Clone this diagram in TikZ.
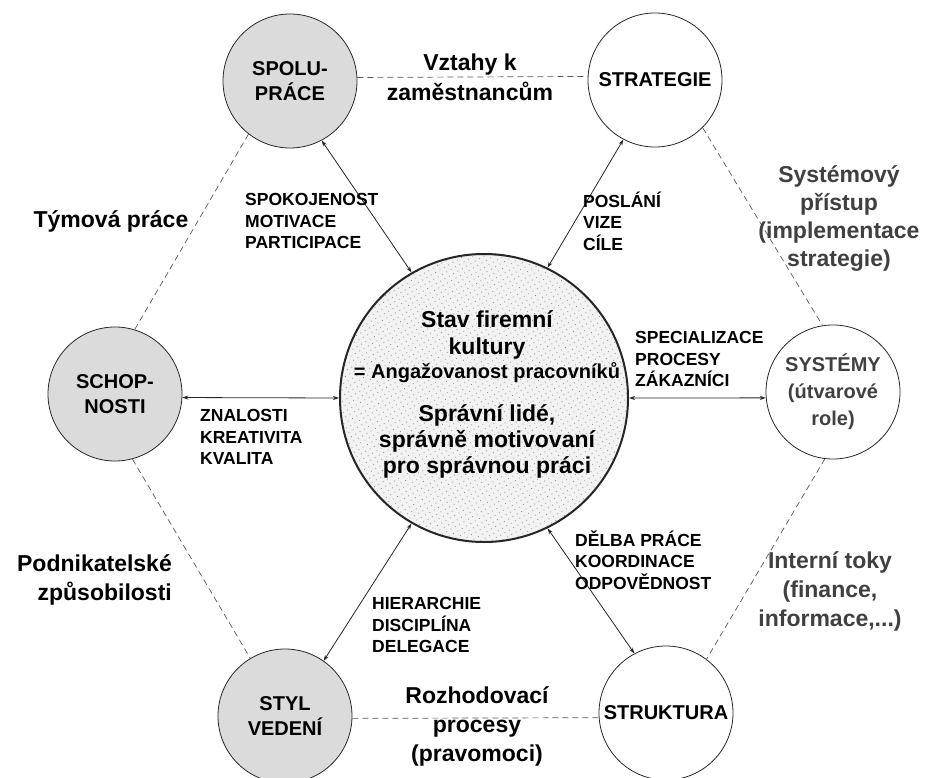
\documentclass[tikz,border=0pt]{standalone}
\usepackage{fontspec}
\setmainfont{Liberation Sans}
\usetikzlibrary{arrows.meta,patterns.meta}
\tikzset{
  lblbig/.style={font=\fontsize{23}{29}\selectfont\bfseries, align=center, inner sep=0pt},
  lblsmall/.style={font=\fontsize{17.5}{21.5}\selectfont\bfseries, align=left, anchor=west, inner sep=0pt},
  lblcirc/.style={font=\fontsize{20}{25}\selectfont\bfseries, align=center},
  bubble/.style={circle, draw=black!85, line width=0.8pt, minimum size=134pt, inner sep=0pt, fill=white},
  greybubble/.style={bubble, fill=black!14},
  arr/.style={<->, >={Stealth[length=6pt,width=4pt]}, line width=0.8pt, draw=black!85},
  dsh/.style={draw=black!65, line width=0.7pt, dash pattern=on 6pt off 4pt},
}
\begin{document}
\begin{tikzpicture}[x=1pt,y=-1pt]
\useasboundingbox[fill=white] (0,0) rectangle (926,778);

% circles
\node[circle, draw=black!85, line width=2pt, minimum size=288pt, inner sep=0pt,
      preaction={fill=black!5},
      pattern={Dots[radius=0.55pt, distance=5pt, angle=30]}, pattern color=black!45] (centre) at (484,398) {};
\node[greybubble, lblcirc] (spol) at (290,81) {SPOLU-\\PRÁCE};
\node[bubble, lblcirc] (strat) at (655,80) {STRATEGIE};
\node[greybubble, lblcirc] (schop) at (115,394) {SCHOP-\\NOSTI};
\node[bubble, lblcirc, font=\fontsize{20}{27}\selectfont\bfseries, text=black!75] (sys) at (833,392) {SYSTÉMY\\(útvarové\\role)};
\node[greybubble, lblcirc] (styl) at (285,716) {STYL\\VEDENÍ};
\node[bubble, lblcirc] (struk) at (666,713) {STRUKTURA};

% dashed hexagon
\draw[dsh] (spol.3) -- (strat.177);
\draw[dsh] (spol.232) -- (schop.73);
\draw[dsh] (strat.315) -- (sys.99);
\draw[dsh] (schop.285) -- (styl.121);
\draw[dsh] (sys.263) -- (struk.53);
\draw[dsh] (styl.-2) -- (struk.184);

% arrows to centre
\draw[arr] (spol.298) -- (centre.120);
\draw[arr] (strat.242) -- (centre.64);
\draw[arr] (schop.-3) -- (centre.180);
\draw[arr] (centre.0) -- (sys.185);
\draw[arr] (styl.55) -- (centre.240);
\draw[arr] (struk.118) -- (centre.296);

% centre text
\node[lblbig, font=\fontsize{23}{27}\selectfont\bfseries] (stav) at (487,335) {Stav firemní\\kultury};
\node[lblbig, font=\fontsize{20}{24}\selectfont\bfseries] (ang) at (487,373) {= Angažovanost pracovníků};
\node[lblbig, font=\fontsize{23}{26}\selectfont\bfseries] (spr) at (487,441) {Správní lidé,\\správně motivovaní\\pro správnou práci};

% edge labels
\node[lblbig, font=\fontsize{23}{30}\selectfont\bfseries] (vzt) at (470,77) {Vztahy k\\zaměstnancům};
\node[lblbig] (tym) at (111,221) {Týmová práce};
\node[lblbig, text=black!75, font=\fontsize{23}{28}\selectfont\bfseries] (sysp) at (839,219) {Systémový\\přístup\\(implementace\\strategie)};
\node[lblbig, align=right, anchor=east] (podn) at (172,580) {Podnikatelské\\způsobilosti};
\node[lblbig, text=black!75, font=\fontsize{23}{29}\selectfont\bfseries] (intr) at (830,591) {Interní toky\\(finance,\\informace,...)};
\node[lblbig] (rozh) at (477,726) {Rozhodovací\\procesy\\(pravomoci)};

\node[lblsmall] (spok) at (245,221) {SPOKOJENOST\\MOTIVACE\\PARTICIPACE};
\node[lblsmall] (posl) at (583,221) {POSLÁNÍ\\VIZE\\CÍLE};
\node[lblsmall] (spec) at (635,359) {SPECIALIZACE\\PROCESY\\ZÁKAZNÍCI};
\node[lblsmall] (znal) at (200,437) {ZNALOSTI\\KREATIVITA\\KVALITA};
\node[lblsmall] (hier) at (372,625) {HIERARCHIE\\DISCIPLÍNA\\DELEGACE};
\node[lblsmall] (delb) at (575,560) {DĚLBA PRÁCE\\KOORDINACE\\ODPOVĚDNOST};
\end{tikzpicture}
\end{document}
